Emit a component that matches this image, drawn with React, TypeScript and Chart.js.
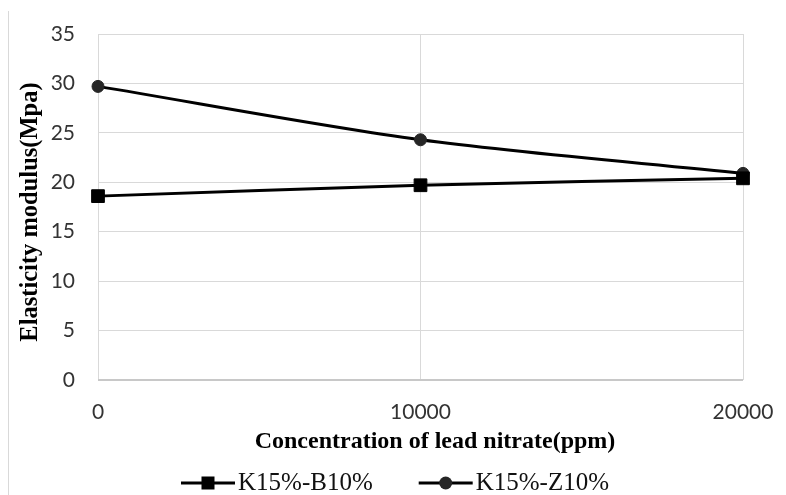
import React, { useEffect, useRef } from "react";
import { Chart, registerables } from "chart.js";

Chart.register(...registerables);

const concentrations = [0, 10000, 20000];
const xTickLabels = ["0", "10000", "20000"];
const seriesLabels = ["K15%-B10%", "K15%-Z10%"];
const b10Values = [18.6, 19.7, 20.4];
const z10Values = [29.7, 24.3, 20.9];
const yTickValues = [0, 5, 10, 15, 20, 25, 30, 35];
const xTitle = "Concentration of lead nitrate(ppm)";
const yTitle = "Elasticity modulus(Mpa)";

const tickFont = { family: "Lato", size: 21 };

const overlayPlugin = {
  id: "titlesAndLegend",
  afterDraw(chart: any) {
    const ctx = chart.ctx as CanvasRenderingContext2D;
    ctx.save();
    // x axis title
    ctx.font = 'bold 24px "Liberation Serif"';
    ctx.fillStyle = "#000000";
    ctx.textAlign = "center";
    ctx.textBaseline = "middle";
    ctx.fillText(xTitle, 435, 442);

    // y axis title
    ctx.save();
    ctx.translate(31, 212);
    ctx.rotate(-Math.PI / 2);
    ctx.font = 'bold 24.5px "Liberation Serif"';
    ctx.fillText(yTitle, 0, 0);
    ctx.restore();

    // legend
    ctx.font = '25px "Liberation Serif"';
    const lineLen = 54;
    const gapText = 3;
    const gapItems = 46;
    const items = chart.data.datasets.map((ds: any) => ({
      ds,
      w: lineLen + gapText + ctx.measureText(ds.label).width,
    }));
    const total =
      items.reduce((s: number, it: any) => s + it.w, 0) + gapItems * (items.length - 1);
    let x = 395 - total / 2;
    const y = 483;
    for (const it of items) {
      const ds = it.ds;
      ctx.strokeStyle = ds.borderColor;
      ctx.lineWidth = 3;
      ctx.beginPath();
      ctx.moveTo(x, y);
      ctx.lineTo(x + lineLen, y);
      ctx.stroke();
      const cx = x + lineLen / 2;
      ctx.fillStyle = ds.pointBackgroundColor;
      if (ds.pointStyle === "rect") {
        ctx.fillRect(cx - 6.5, y - 6.5, 13, 13);
      } else {
        ctx.beginPath();
        ctx.arc(cx, y, 6.5, 0, Math.PI * 2);
        ctx.fill();
      }
      ctx.fillStyle = "#111111";
      ctx.textBaseline = "middle";
      ctx.textAlign = "left";
      ctx.fillText(ds.label, x + lineLen + gapText, y);
      x += it.w + gapItems;
    }
    ctx.restore();
  },
};

export default function App() {
  const canvasRef = useRef<HTMLCanvasElement | null>(null);

  useEffect(() => {
    if (!canvasRef.current) return;
    const chart = new Chart(canvasRef.current, {
      type: "line",
      data: {
        datasets: [
          {
            label: seriesLabels[0],
            data: concentrations.map((x, i) => ({ x, y: b10Values[i] })),
            borderColor: "#000000",
            borderWidth: 3,
            pointStyle: "rect",
            pointRadius: 9,
            pointBackgroundColor: "#000000",
            pointBorderColor: "#000000",
            pointBorderWidth: 1,
            tension: 0.3,
            clip: false,
          },
          {
            label: seriesLabels[1],
            data: concentrations.map((x, i) => ({ x, y: z10Values[i] })),
            borderColor: "#000000",
            borderWidth: 3,
            pointStyle: "circle",
            pointRadius: 6,
            pointBackgroundColor: "#262626",
            pointBorderColor: "#262626",
            pointBorderWidth: 1,
            tension: 0.3,
            clip: false,
          },
        ] as any,
      },
      options: {
        responsive: false,
        animation: false,
        layout: { padding: { top: 34, right: 43, left: 0, bottom: 0 } },
        plugins: {
          legend: { display: false },
          tooltip: { enabled: false },
        },
        scales: {
          x: {
            type: "linear",
            min: 0,
            max: 20000,
            afterBuildTicks: (s: any) => {
              s.ticks = concentrations.map((v) => ({ value: v }));
            },
            ticks: {
              padding: 0,
              font: tickFont,
              color: "#333333",
              callback: (v: any) => xTickLabels[concentrations.indexOf(Number(v))] ?? "",
            },
            grid: {
              color: "#d9d9d9",
              lineWidth: 1,
              drawTicks: true,
              tickLength: 20,
              tickColor: "rgba(0,0,0,0)",
            },
            border: { display: false },
            title: { display: false },
            afterFit: (s: any) => {
              s.height = 115;
            },
          },
          y: {
            min: 0,
            max: 35,
            afterBuildTicks: (s: any) => {
              s.ticks = yTickValues.map((v) => ({ value: v }));
            },
            ticks: {
              padding: 0,
              font: tickFont,
              color: "#333333",
            },
            grid: {
              color: (c: any) => (c.tick && c.tick.value === 0 ? "#c8c8c8" : "#d9d9d9"),
              lineWidth: (c: any) => (c.tick && c.tick.value === 0 ? 2 : 1),
              drawTicks: true,
              tickLength: 23,
              tickColor: "rgba(0,0,0,0)",
            },
            border: { display: false },
            title: { display: false },
            afterFit: (s: any) => {
              s.width = 98;
            },
          },
        },
      } as any,
      plugins: [overlayPlugin],
    });
    return () => chart.destroy();
  }, []);

  return (
    <div style={{ position: "absolute", left: 0, top: 0, width: 786, height: 495, background: "#ffffff" }}>
      <div
        style={{
          position: "absolute",
          left: 8,
          top: 11,
          width: 1,
          height: 484,
          background: "#d9d9d9",
        }}
      />
      <canvas ref={canvasRef} width={786} height={495} style={{ position: "absolute", left: 0, top: 0 }} />
    </div>
  );
}
